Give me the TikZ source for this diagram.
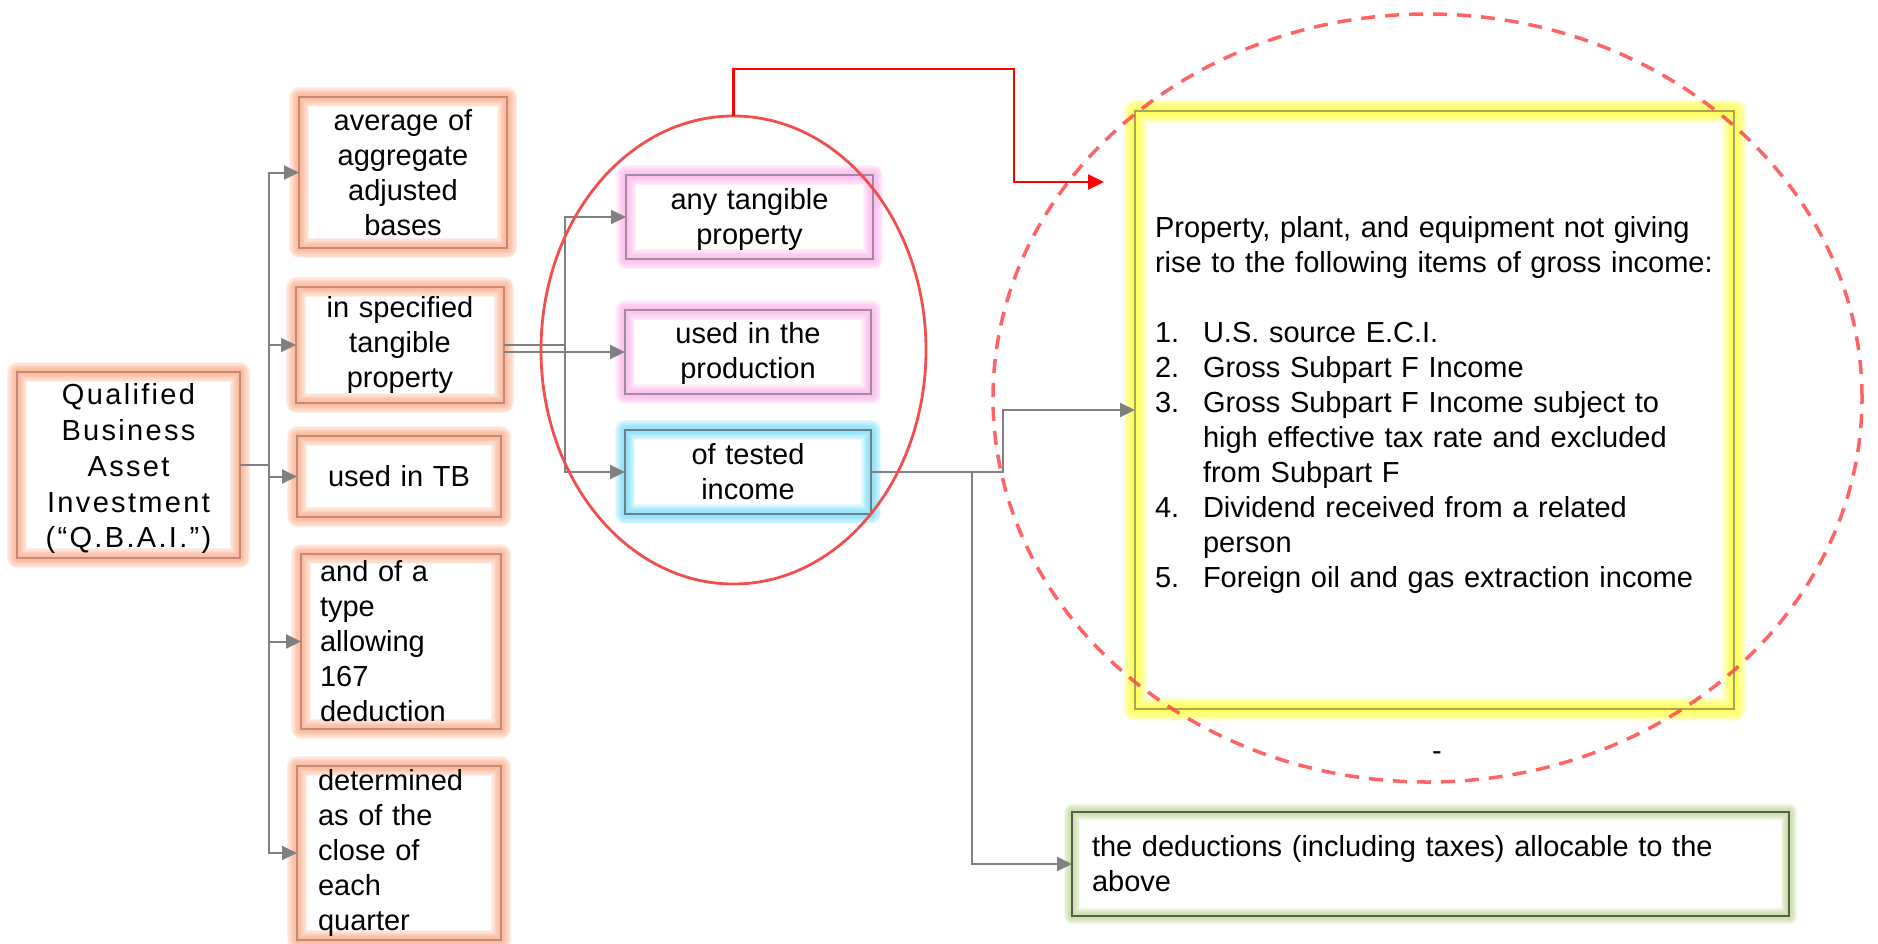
\documentclass[tikz,border=0pt]{standalone}
\usepackage{fontspec}
\setmainfont{Liberation Sans}
\newfontfamily\qbaifont{Liberation Sans}[LetterSpace=8.0]
\usetikzlibrary{arrows.meta,shapes.geometric}
\pgfdeclarelayer{background}
\pgfsetlayers{background,main}
% glow and edge colours
\definecolor{glowO}{RGB}{250,165,125}
\definecolor{edgeO}{RGB}{196,138,118}
\definecolor{glowP}{RGB}{255,170,232}
\definecolor{edgeP}{RGB}{160,140,160}
\definecolor{glowC}{RGB}{110,218,250}
\definecolor{edgeC}{RGB}{110,128,138}
\definecolor{glowY}{RGB}{255,255,40}
\definecolor{edgeY}{RGB}{165,165,95}
\definecolor{glowG}{RGB}{185,212,140}
\definecolor{edgeG}{RGB}{90,92,84}
\definecolor{connGray}{RGB}{128,128,128}
\definecolor{ovalRed}{RGB}{242,78,78}
\definecolor{dashRed}{RGB}{255,72,72}
\begin{document}
\begin{tikzpicture}[x=1pt,y=-1pt,
  every node/.style={font=\fontsize{29}{35}\selectfont, outer sep=0pt},
  box/.style={rectangle, line width=1.8pt, align=center, inner xsep=10pt, inner ysep=0pt},
  obox/.style={box, draw=edgeO},
  pbox/.style={box, draw=edgeP},
  cbox/.style={box, draw=edgeC},
  ybox/.style={box, draw=edgeY, line width=1.5pt, align=left, inner xsep=20pt},
  gbox/.style={box, draw=edgeG, line width=1.5pt, align=left, inner xsep=20pt},
  conn/.style={draw=connGray, line width=2pt},
  arr/.style={conn, -{Triangle[length=15pt,width=14pt]}},
  redarr/.style={draw=red, line width=2.2pt, -{Triangle[length=16pt,width=15pt]}},
]
\useasboundingbox (0,0) rectangle (1878,943);

% left column
\node[obox, text width=203pt, minimum height=186pt, text height=28pt] (qbai) at (128.5,465)
  {\fontsize{29}{36}\selectfont\qbaifont Qualified\\Business\\Asset\\Investment\\(“Q.B.A.I.”)};
\node[obox, text width=188pt, minimum height=151pt] (avg) at (403,172.5)
  {average of\\aggregate\\adjusted\\bases};
\node[obox, text width=188pt, minimum height=116pt] (spec) at (400,345)
  {in specified\\tangible\\property};
\node[obox, text width=184pt, minimum height=81pt] (tb) at (399,476.5)
  {used in TB};
\node[obox, align=left, inner xsep=19pt, text width=162pt, minimum height=175pt] (type) at (401,641.5)
  {and of a\\type\\allowing\\167\\deduction};
\node[obox, align=left, inner xsep=21pt, text width=162pt, minimum height=174pt] (det) at (399,853)
  {determined\\as of the\\close of\\each\\quarter};

% middle column
\node[pbox, text width=227pt, minimum height=84pt, text height=27pt] (any) at (749.5,217)
  {any tangible\\property};
\node[pbox, text width=226pt, minimum height=84pt, text height=25pt] (prod) at (748,352)
  {used in the\\production};
\node[cbox, text width=226pt, minimum height=84pt] (tested) at (748,472)
  {of tested\\income};

% right column
\node[ybox, text width=559pt, minimum height=598pt, text height=11pt] (inc) at (1434.5,410)
  {\mbox{Property, plant, and equipment not giving}\\
   \mbox{rise to the following items of gross income:}\\[35pt]
   \makebox[48pt][l]{1.}U.S. source E.C.I.\\
   \makebox[48pt][l]{2.}Gross Subpart F Income\\
   \makebox[48pt][l]{3.}Gross Subpart F Income subject to\\
   \hspace*{48pt}\mbox{high effective tax rate and excluded}\\
   \hspace*{48pt}from Subpart F\\
   \makebox[48pt][l]{4.}Dividend received from a related\\
   \hspace*{48pt}person\\
   \makebox[48pt][l]{5.}\mbox{Foreign oil and gas extraction income}};
\node[gbox, text width=677pt, minimum height=104pt] (ded) at (1430.5,864)
  {\mbox{the deductions (including taxes) allocable to the}\\above};
\node (dash) at (1437,756) {-};

% soft glows behind the boxes
\begin{pgfonlayer}{background}
\foreach \n/\c/\s in {qbai/glowO/10, avg/glowO/10, spec/glowO/10, tb/glowO/10,
    type/glowO/10, det/glowO/10, any/glowP/10, prod/glowP/10, tested/glowC/10,
    inc/glowY/12, ded/glowG/8}{
  \foreach \f in {2,1.75,1.5,1.25,1,0.75,0.5,0.25}{
    \pgfmathsetmacro\lw{\f*\s}
    \draw[draw=\c, line width=\lw pt, opacity=.17, line join=round]
      (\n.south west) rectangle (\n.north east);
  }
}
\end{pgfonlayer}

% branch points
\coordinate (j1) at (269,465);
\coordinate (j2) at (565,345);
\coordinate (j3) at (1003,472);
\coordinate (j4) at (972,472);
\coordinate (r1) at (1014,69);
\coordinate (redend) at (1104,182);

% connectors
\draw[arr] (qbai.east) -- (j1) |- (avg.west);
\draw[arr] (j1) |- (spec.west);
\draw[arr] (j1) |- (tb.west);
\draw[arr] (j1) |- (type.west);
\draw[arr] (j1) |- (det.west);

\draw[arr] (spec.east) -- (j2) |- (any.west);
\draw[arr] (j2) |- (tested.west);
\draw[arr] (spec.east |- prod.west) -- (prod.west);

\draw[arr] (tested.east) -- (j3) |- (inc.west);
\draw[arr] (j4) |- (ded.west);

% grouping ovals
\node[draw=ovalRed, line width=2.8pt, ellipse, inner sep=0pt,
      minimum width=385pt, minimum height=468pt] (oval) at (733.5,350) {};
\node[draw=dashRed, draw opacity=.85, line width=3.5pt, ellipse, inner sep=0pt,
      dash pattern=on 14pt off 10pt,
      minimum width=869pt, minimum height=768pt] (ring) at (1427.5,398) {};

\draw[redarr] (oval.north) |- (r1) |- (redend);
\end{tikzpicture}
\end{document}
